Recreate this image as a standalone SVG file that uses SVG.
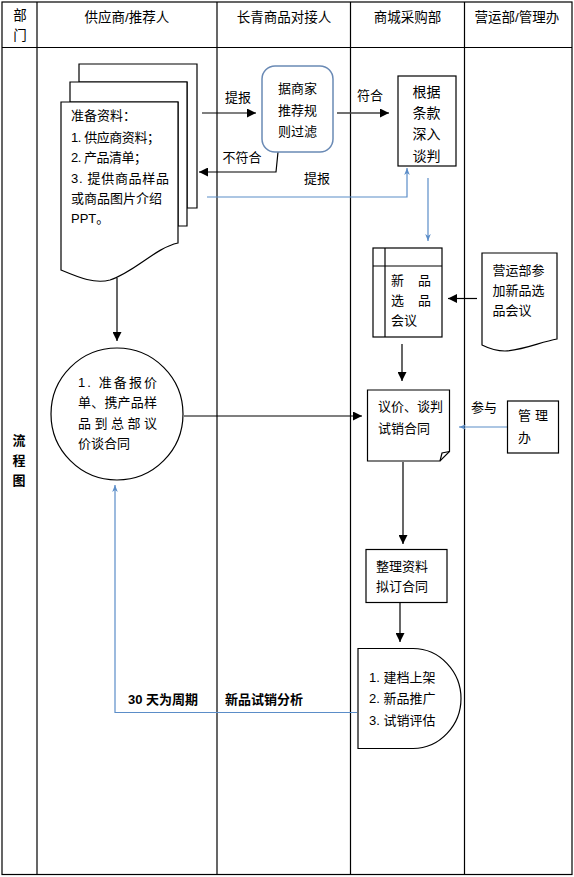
<svg xmlns="http://www.w3.org/2000/svg" width="574" height="877" viewBox="0 0 574 877">
<defs>
<style>
text{font-family:"Liberation Sans","Noto Sans CJK SC",sans-serif;font-size:13px;fill:#000}
.h{font-size:13.5px}
.b{font-weight:bold}
.tbl{stroke:#000;stroke-width:1.2;fill:none}
.shape{fill:#fff;stroke:#000;stroke-width:1.2}
.ln{fill:none;stroke:#000;stroke-width:1.2}
.blue{fill:none;stroke:#5b8dc8;stroke-width:1.2}
</style>
<marker id="ab" viewBox="0 0 10 10" refX="10" refY="5" markerWidth="9" markerHeight="9" markerUnits="userSpaceOnUse" orient="auto"><path d="M0,0 L10,5 L0,10 z" fill="#000"/></marker>
<marker id="abl" viewBox="0 0 10 10" refX="10" refY="5" markerWidth="7" markerHeight="7" markerUnits="userSpaceOnUse" orient="auto"><path d="M0,1 L10,5 L0,9 L3,5 z" fill="#5b8dc8"/></marker>
</defs>
<rect width="574" height="877" fill="#fff"/>
<g id="table">
<rect class="tbl" x="2" y="2" width="570" height="872.5"/>
<line class="tbl" x1="2" y1="47.5" x2="572" y2="47.5"/>
<line class="tbl" x1="37" y1="2" x2="37" y2="874.5"/>
<line class="tbl" x1="217" y1="2" x2="217" y2="874.5"/>
<line class="tbl" x1="350.5" y1="2" x2="350.5" y2="874.5"/>
<line class="tbl" x1="464.5" y1="2" x2="464.5" y2="874.5"/>
<text class="h" x="20" y="19.5" text-anchor="middle">部</text>
<text class="h" x="20" y="39.5" text-anchor="middle">门</text>
<text class="h" x="127" y="21.5" text-anchor="middle">供应商/推荐人</text>
<text class="h" x="284" y="21.5" text-anchor="middle">长青商品对接人</text>
<text class="h" x="407.5" y="21.5" text-anchor="middle">商城采购部</text>
<text class="h" x="517" y="21.5" text-anchor="middle">营运部/管理办</text>
<text class="b" x="19" y="445" text-anchor="middle">流</text>
<text class="b" x="19" y="465" text-anchor="middle">程</text>
<text class="b" x="19" y="485" text-anchor="middle">图</text>
</g>
<g id="connectors">
<line class="ln" x1="202" y1="113" x2="256" y2="113" marker-end="url(#ab)"/>
<text x="238" y="101.5" text-anchor="middle">提报</text>
<path class="ln" d="M278,152 L276,172 L199,172" marker-end="url(#ab)"/>
<text x="242" y="161.5" text-anchor="middle">不符合</text>
<line x1="337" y1="113" x2="389" y2="113" stroke="#404040" stroke-width="1.5" marker-end="url(#ab)"/>
<text x="370" y="100" text-anchor="middle">符合</text>
<path class="blue" d="M207,197 L407,197 L407,168" marker-end="url(#abl)"/>
<text x="317" y="182.5" text-anchor="middle">提报</text>
<line class="blue" x1="428" y1="178" x2="428" y2="241" marker-end="url(#abl)"/>
<line class="ln" x1="117" y1="278" x2="117" y2="341" marker-end="url(#ab)"/>
<line class="ln" x1="477" y1="298.5" x2="448" y2="298.5" marker-end="url(#ab)"/>
<line class="ln" x1="402" y1="344" x2="402" y2="381" marker-end="url(#ab)"/>
<line class="ln" x1="184" y1="416" x2="362" y2="416" marker-end="url(#ab)"/>
<line class="blue" x1="507" y1="427" x2="459" y2="427" marker-end="url(#abl)"/>
<text x="484" y="411.5" text-anchor="middle">参与</text>
<line class="ln" x1="403" y1="462" x2="403" y2="544" marker-end="url(#ab)"/>
<line class="ln" x1="400" y1="603" x2="400" y2="642" marker-end="url(#ab)"/>
<path class="blue" d="M357,712.5 L115,712.5 L115,485" marker-end="url(#abl)"/>
<text class="b" x="128" y="703.5">30 天为周期</text>
<text class="b" x="225" y="703.5">新品试销分析</text>
</g>
<g id="doc-materials">
<path class="shape" d="M79,64 H197 V208 H187 V82 H79 Z"/>
<path class="shape" d="M70,82 H187 V226 H178 V102 H70 Z"/>
<path class="shape" d="M61,102 H178 V243 C155,248 135,272 110,280 C95,284 80,278 61,270 Z"/>
<text x="71" y="120">准备资料：</text>
<text x="71" y="142" textLength="89" lengthAdjust="spacing">1. 供应商资料；</text>
<text x="71" y="162" textLength="76" lengthAdjust="spacing">2. 产品清单；</text>
<text x="71" y="183" textLength="98" lengthAdjust="spacing">3. 提供商品样品</text>
<text x="71" y="203">或商品图片介绍</text>
<text x="71" y="223">PPT。</text>
</g>
<g id="filter">
<rect x="262" y="66" width="71" height="86" rx="13" fill="#fff" stroke="#6a8ab5" stroke-width="1.5"/>
<text x="297.5" y="92.5" text-anchor="middle">据商家</text>
<text x="297.5" y="114.5" text-anchor="middle">推荐规</text>
<text x="297.5" y="135.5" text-anchor="middle">则过滤</text>
</g>
<g id="negotiate">
<rect class="shape" x="398" y="76" width="58" height="90"/>
<text x="426.5" y="97" text-anchor="middle" style="font-size:14px">根据</text>
<text x="426.5" y="118" text-anchor="middle" style="font-size:14px">条款</text>
<text x="426.5" y="139" text-anchor="middle" style="font-size:14px">深入</text>
<text x="426.5" y="161" text-anchor="middle" style="font-size:14px">谈判</text>
</g>
<g id="meeting">
<rect class="shape" x="373" y="248" width="69" height="89"/>
<line class="ln" x1="385" y1="248" x2="385" y2="337"/>
<line class="ln" x1="373" y1="266" x2="442" y2="266"/>
<text x="391" y="284.5">新</text>
<text x="418" y="284.5">品</text>
<text x="391" y="305">选</text>
<text x="418" y="305">品</text>
<text x="391" y="325">会议</text>
</g>
<g id="ops-doc">
<path class="shape" d="M482,253 H557 V339 C540,342 525,350 505,351 C495,351 488,348 482,345 Z"/>
<text x="492.5" y="274.5">营运部参</text>
<text x="492.5" y="295">加新品选</text>
<text x="492.5" y="314.5">品会议</text>
</g>
<g id="quote">
<circle class="shape" cx="117" cy="414" r="66"/>
<text x="78" y="386.5" textLength="79" lengthAdjust="spacing">1. 准备报价</text>
<text x="78" y="406.5" textLength="79" lengthAdjust="spacing">单、携产品样</text>
<text x="78" y="427.5" textLength="79" lengthAdjust="spacing">品到总部议</text>
<text x="78" y="447.5">价谈合同</text>
</g>
<g id="contract-note">
<path class="shape" d="M367.5,390 H449.5 V451.5 L440,461 H367.5 Z"/>
<path class="ln" d="M440,461 L442,453 L449.5,451.5"/>
<text x="378" y="411">议价、谈判</text>
<text x="378" y="432.5">试销合同</text>
</g>
<g id="mgmt">
<rect class="shape" x="507.5" y="401" width="51" height="52"/>
<text x="518" y="419.5" textLength="30" lengthAdjust="spacing">管理</text>
<text x="518" y="441.5">办</text>
</g>
<g id="draft">
<rect class="shape" x="366" y="549.5" width="81" height="53"/>
<text x="376" y="570.5">整理资料</text>
<text x="376" y="590.5">拟订合同</text>
</g>
<g id="launch">
<path class="shape" d="M358,648.5 H413 C440,648.5 461,672 461,698.5 C461,725 440,748.5 413,748.5 H358 Z"/>
<text x="369" y="681.5">1. 建档上架</text>
<text x="369" y="702.5">2. 新品推广</text>
<text x="369" y="724.5">3. 试销评估</text>
</g>
</svg>
